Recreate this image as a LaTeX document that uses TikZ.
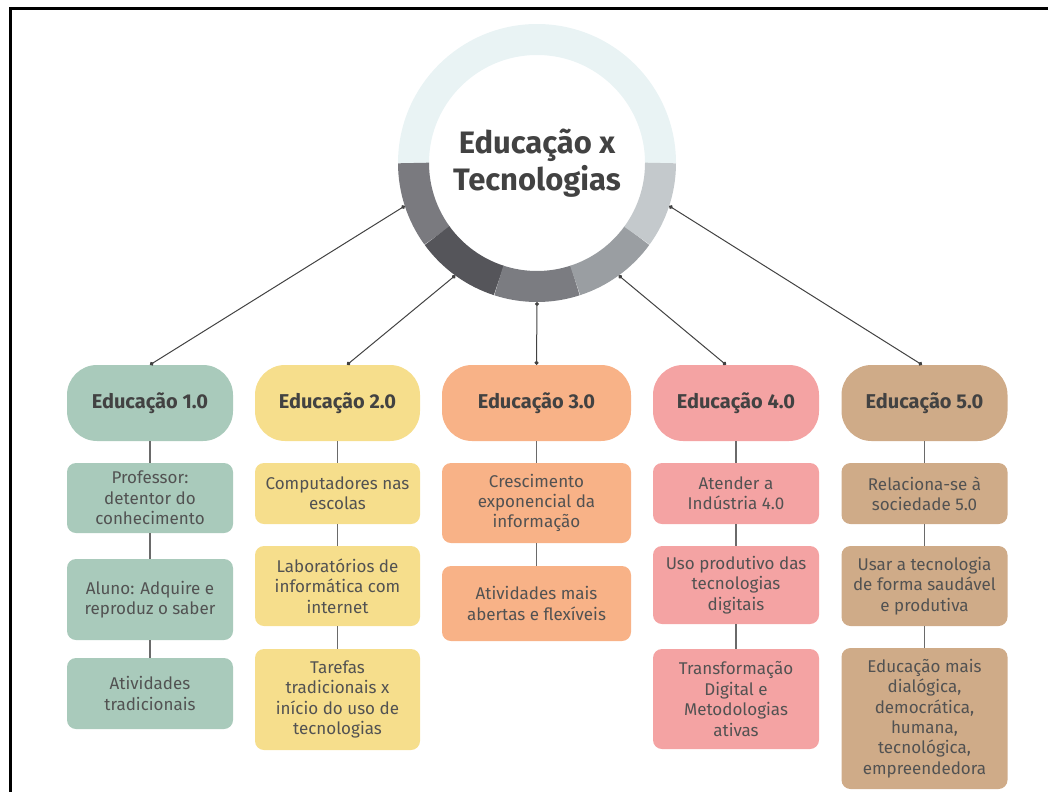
\documentclass[tikz,border=0pt]{standalone}
\usepackage{fontspec}
\setmainfont{Fira Sans}
\usetikzlibrary{arrows.meta}

\definecolor{ringtop}{HTML}{E9F3F4}
\definecolor{ringa}{HTML}{7A7A7F}
\definecolor{ringb}{HTML}{55555A}
\definecolor{ringc}{HTML}{7B7C81}
\definecolor{ringd}{HTML}{9A9EA2}
\definecolor{ringe}{HTML}{C4C9CC}
\definecolor{edone}{HTML}{A9CABB}
\definecolor{edtwo}{HTML}{F6DE8C}
\definecolor{edthree}{HTML}{F8B287}
\definecolor{edfour}{HTML}{F4A3A3}
\definecolor{edfive}{HTML}{CFAB88}
\definecolor{inkgray}{HTML}{424242}
\definecolor{bodygray}{HTML}{525252}
\definecolor{stemgray}{HTML}{6A6A6A}

\tikzset{
  era/.style={rounded corners=30, minimum height=76, inner sep=0,
    text=inkgray, font=\fontsize{20}{24}\selectfont\bfseries},
  topic/.style={rounded corners=9, inner sep=0, align=center,
    text=bodygray, font=\fontsize{17}{20.4}\selectfont},
  stem/.style={draw=stemgray, line width=1.4},
  spoke/.style={draw=inkgray, line width=1},
}

\begin{document}
\begin{tikzpicture}[x=1pt,y=-1pt]
  \useasboundingbox (0,0) rectangle (1048,792);
  \draw[line width=3] (1048,9) -- (10,9) -- (10,792);

  % hub with its segmented ring
  \node[circle, minimum size=278, inner sep=0, outer sep=0] (hub) at (537,163) {};
  \foreach \a/\b/\c in {0/180/ringtop, 180/216/ringa, 216/252/ringb,
                        252/288/ringc, 288/324/ringd, 324/360/ringe}
    \draw[line width=31, \c] (hub.center) ++(\a:123.5pt)
      arc[start angle=\a, end angle=\b, radius=123.5pt];
  \node[align=center, text=inkgray, font=\fontsize{31}{37}\selectfont\bfseries]
    (title) at (hub.center) {Educação x\\Tecnologias};

  % eras
  \node[era, fill=edone, minimum width=166] (e1) at (150,403) {\raisebox{3pt}{Educação 1.0}};
  \node[era, fill=edtwo, minimum width=165] (e2) at (337.5,403) {\raisebox{3pt}{Educação 2.0}};
  \node[era, fill=edthree, minimum width=189] (e3) at (536.5,403) {\raisebox{3pt}{Educação 3.0}};
  \node[era, fill=edfour, minimum width=166] (e4) at (736,403) {\raisebox{3pt}{Educação 4.0}};
  \node[era, fill=edfive, minimum width=166] (e5) at (924.5,403) {\raisebox{3pt}{Educação 5.0}};

  % column 1
  \node[topic, fill=edone, minimum width=166, minimum height=70] (e1a) at (150,498)
    {Professor:\\detentor do\\conhecimento};
  \node[topic, fill=edone, minimum width=166, minimum height=81] (e1b) at (150,599.5)
    {Aluno: Adquire e\\reproduz o saber};
  \node[topic, fill=edone, minimum width=166, minimum height=71] (e1c) at (150,693.5)
    {Atividades\\tradicionais};

  % column 2
  \node[topic, fill=edtwo, minimum width=165, minimum height=61] (e2a) at (337.5,493.5)
    {Computadores nas\\escolas};
  \node[topic, fill=edtwo, minimum width=165, minimum height=80] (e2b) at (337.5,586)
    {Laboratórios de\\informática com\\internet};
  \node[topic, fill=edtwo, minimum width=165, minimum height=101] (e2c) at (337.5,699.5)
    {Tarefas\\tradicionais x\\início do uso de\\tecnologias};

  % column 3
  \node[topic, fill=edthree, minimum width=189, minimum height=80] (e3a) at (536.5,503)
    {Crescimento\\exponencial da\\informação};
  \node[topic, fill=edthree, minimum width=189, minimum height=75] (e3b) at (536.5,603.5)
    {Atividades mais\\abertas e flexíveis};

  % column 4
  \node[topic, fill=edfour, minimum width=166, minimum height=61] (e4a) at (736,493.5)
    {Atender a\\Indústria 4.0};
  \node[topic, fill=edfour, minimum width=166, minimum height=78] (e4b) at (736,585)
    {Uso produtivo das\\tecnologias\\digitais};
  \node[topic, fill=edfour, minimum width=166, minimum height=100] (e4c) at (736,699)
    {Transformação\\Digital e\\Metodologias\\ativas};

  % column 5
  \node[topic, fill=edfive, minimum width=166, minimum height=61] (e5a) at (924.5,493.5)
    {Relaciona-se à\\sociedade 5.0};
  \node[topic, fill=edfive, minimum width=166, minimum height=80] (e5b) at (924.5,586)
    {Usar a tecnologia\\de forma saudável\\e produtiva};
  \node[topic, fill=edfive, minimum width=166, minimum height=141] (e5c) at (924.5,718.5)
    {Educação mais\\dialógica,\\democrática,\\humana,\\tecnológica,\\empreendedora};

  \begin{scope}[spoke, arrows={Circle[length=4pt]-Circle[length=4pt]}]
    \draw (hub.198) -- (e1.north);
    \draw (hub.234) -- ([xshift=9.5pt]e2.north);
    \draw (hub.270) -- (e3.north);
    \draw (hub.306) -- ([xshift=-10pt]e4.north);
    \draw (hub.342) -- ([xshift=-2.5pt]e5.north);
  \end{scope}

  \begin{scope}[stem]
    \draw (e1.south) -- (e1a.north);
    \draw (e1a.south) -- (e1b.north);
    \draw (e1b.south) -- (e1c.north);
    \draw (e2.south) -- (e2a.north);
    \draw (e2a.south) -- (e2b.north);
    \draw (e2b.south) -- (e2c.north);
    \draw (e3.south) -- (e3a.north);
    \draw (e3a.south) -- (e3b.north);
    \draw (e4.south) -- (e4a.north);
    \draw (e4a.south) -- (e4b.north);
    \draw (e4b.south) -- (e4c.north);
    \draw (e5.south) -- (e5a.north);
    \draw (e5a.south) -- (e5b.north);
    \draw (e5b.south) -- (e5c.north);
  \end{scope}
\end{tikzpicture}
\end{document}
